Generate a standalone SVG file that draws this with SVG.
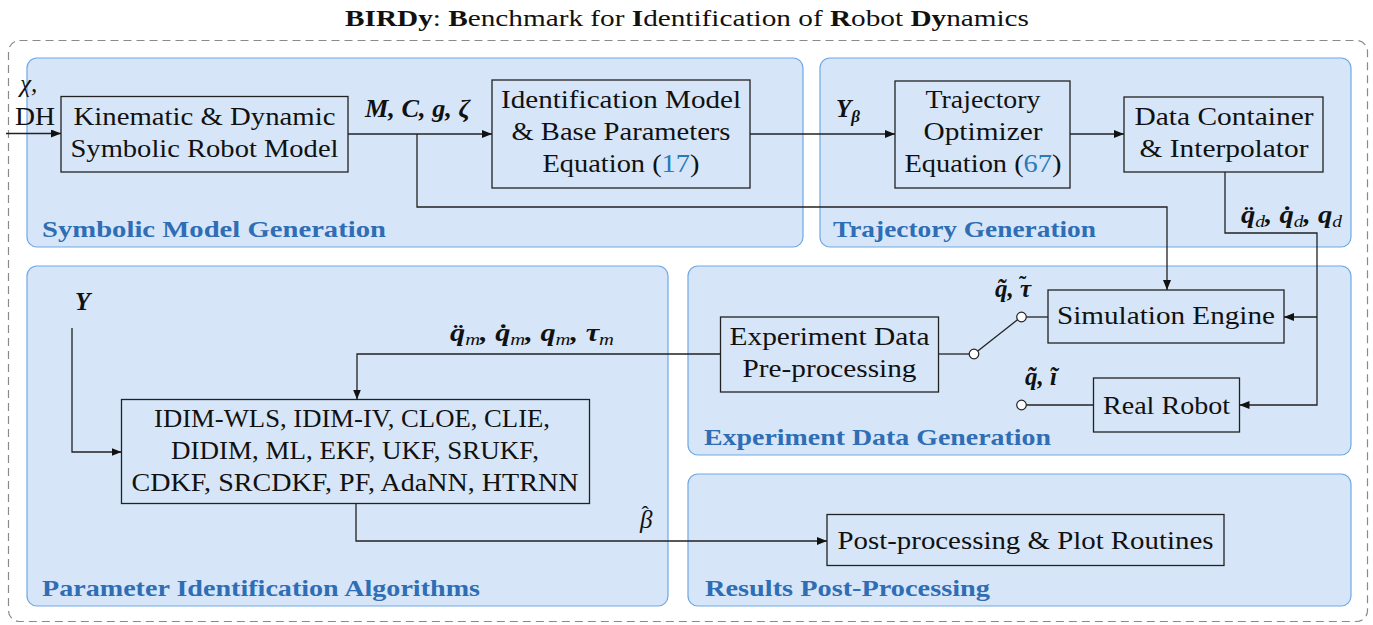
<svg xmlns="http://www.w3.org/2000/svg" width="1373" height="625" viewBox="0 0 1373 625">
<defs>
<marker id="ah" viewBox="0 0 10 8" refX="10" refY="4" markerWidth="10" markerHeight="8" markerUnits="userSpaceOnUse" orient="auto">
<path d="M0,0 L10,4 L0,8 z" fill="#111"/>
</marker>
<style>
text{font-family:'Liberation Serif','Times New Roman',Tinos,'Noto Serif',serif}
.panel{fill:#d6e6f8;stroke:#6ea8e6;stroke-width:1.2}
.plabel{font-weight:bold;font-size:23px;fill:#2f6db4}
.box{fill:none;stroke:#222;stroke-width:1.3}
.t{font-size:25px;fill:#111;text-anchor:middle}
.m{font-style:italic;font-weight:bold;font-size:25px;fill:#111}
.mi{font-style:italic;font-size:25px;fill:#111}
.sub{font-style:italic;font-weight:normal;font-size:17px}
.acc{font-style:normal;font-size:22px}
.link{fill:#2a7ab8}
.c{fill:none;stroke:#222;stroke-width:1.3}
.sw{fill:#fff;stroke:#222;stroke-width:1.2}
</style>
</defs>
<rect width="1373" height="625" fill="#fff"/>
<text x="687" y="26" font-size="24" fill="#111" text-anchor="middle" textLength="684" lengthAdjust="spacingAndGlyphs"><tspan font-weight="bold">BIRDy</tspan>: <tspan font-weight="bold">B</tspan>enchmark for <tspan font-weight="bold">I</tspan>dentification of <tspan font-weight="bold">R</tspan>obot <tspan font-weight="bold">Dy</tspan>namics</text>
<rect x="8.5" y="40.5" width="1359" height="581" rx="11" fill="none" stroke="#8a8a8a" stroke-width="1.2" stroke-dasharray="8,5"/>

<g id="panel-symbolic">
<rect class="panel" x="27" y="58" width="776" height="189" rx="10"/>
<text class="plabel" x="42" y="237" textLength="344" lengthAdjust="spacingAndGlyphs">Symbolic Model Generation</text>
</g>
<g id="panel-trajectory">
<rect class="panel" x="820" y="58" width="531" height="189" rx="10"/>
<text class="plabel" x="833" y="237" textLength="263" lengthAdjust="spacingAndGlyphs">Trajectory Generation</text>
</g>
<g id="panel-param">
<rect class="panel" x="27" y="266" width="641" height="340" rx="10"/>
<text class="plabel" x="42" y="596" textLength="438" lengthAdjust="spacingAndGlyphs">Parameter Identification Algorithms</text>
</g>
<g id="panel-experiment">
<rect class="panel" x="688" y="266" width="663" height="189" rx="10"/>
<text class="plabel" x="704" y="445" textLength="347" lengthAdjust="spacingAndGlyphs">Experiment Data Generation</text>
</g>
<g id="panel-results">
<rect class="panel" x="688" y="474" width="663" height="132" rx="10"/>
<text class="plabel" x="705" y="596" textLength="285" lengthAdjust="spacingAndGlyphs">Results Post-Processing</text>
</g>

<g id="kinematic">
<rect class="box" x="61" y="96.5" width="287" height="75.5"/>
<text class="t" x="204.5" y="125" textLength="262" lengthAdjust="spacingAndGlyphs">Kinematic &amp; Dynamic</text>
<text class="t" x="204.5" y="157" textLength="268" lengthAdjust="spacingAndGlyphs">Symbolic Robot Model</text>
</g>
<g id="identification">
<rect class="box" x="492" y="80" width="258" height="108"/>
<text class="t" x="621" y="108" textLength="240" lengthAdjust="spacingAndGlyphs">Identification Model</text>
<text class="t" x="621" y="140" textLength="219" lengthAdjust="spacingAndGlyphs">&amp; Base Parameters</text>
<text class="t" x="621" y="172" textLength="157" lengthAdjust="spacingAndGlyphs">Equation (<tspan class="link">17</tspan>)</text>
</g>
<g id="optimizer">
<rect class="box" x="895" y="81" width="175" height="107"/>
<text class="t" x="983" y="108" textLength="115" lengthAdjust="spacingAndGlyphs">Trajectory</text>
<text class="t" x="983" y="140" textLength="119" lengthAdjust="spacingAndGlyphs">Optimizer</text>
<text class="t" x="983" y="172" textLength="157" lengthAdjust="spacingAndGlyphs">Equation (<tspan class="link">67</tspan>)</text>
</g>
<g id="container">
<rect class="box" x="1124" y="97" width="199" height="75"/>
<text class="t" x="1224" y="125" textLength="179" lengthAdjust="spacingAndGlyphs">Data Container</text>
<text class="t" x="1224" y="157" textLength="169" lengthAdjust="spacingAndGlyphs">&amp; Interpolator</text>
</g>
<g id="simulation">
<rect class="box" x="1048" y="290" width="236" height="53"/>
<text class="t" x="1166" y="324" textLength="218" lengthAdjust="spacingAndGlyphs">Simulation Engine</text>
</g>
<g id="realrobot">
<rect class="box" x="1093.5" y="378" width="146" height="54"/>
<text class="t" x="1166.5" y="414" textLength="127" lengthAdjust="spacingAndGlyphs">Real Robot</text>
</g>
<g id="preprocessing">
<rect class="box" x="720.5" y="317" width="218" height="75"/>
<text class="t" x="829.5" y="345" textLength="200" lengthAdjust="spacingAndGlyphs">Experiment Data</text>
<text class="t" x="829.5" y="377" textLength="174" lengthAdjust="spacingAndGlyphs">Pre-processing</text>
</g>
<g id="algorithms">
<rect class="box" x="121.5" y="399.5" width="468" height="104"/>
<text class="t" x="352" y="427" textLength="396" lengthAdjust="spacingAndGlyphs">IDIM-WLS, IDIM-IV, CLOE, CLIE,</text>
<text class="t" x="355" y="459" textLength="368" lengthAdjust="spacingAndGlyphs">DIDIM, ML, EKF, UKF, SRUKF,</text>
<text class="t" x="355" y="491" textLength="447" lengthAdjust="spacingAndGlyphs">CDKF, SRCDKF, PF, AdaNN, HTRNN</text>
</g>
<g id="postprocessing">
<rect class="box" x="827" y="514.5" width="397" height="51"/>
<text class="t" x="1025.5" y="549" textLength="376" lengthAdjust="spacingAndGlyphs">Post-processing &amp; Plot Routines</text>
</g>

<g id="connectors">
<path class="c" d="M6,133.5 H61" marker-end="url(#ah)"/>
<path class="c" d="M348,134 H492" marker-end="url(#ah)"/>
<path class="c" d="M417,134 V207 H1167 V290" marker-end="url(#ah)"/>
<path class="c" d="M750,134 H895" marker-end="url(#ah)"/>
<path class="c" d="M1070,134 H1124" marker-end="url(#ah)"/>
<path class="c" d="M1225,172 V233 H1317 V405 H1239.5" marker-end="url(#ah)"/>
<path class="c" d="M1317,317 H1284" marker-end="url(#ah)"/>
<path class="c" d="M1048,317 H1026"/>
<path class="c" d="M938.5,354 H969.5"/>
<path class="c" d="M977.5,351.2 L1017.5,319.8"/>
<path class="c" d="M1093.5,405 H1026"/>
<path class="c" d="M720.5,354 H357 V399.5" marker-end="url(#ah)"/>
<path class="c" d="M72,328 V452 H121.5" marker-end="url(#ah)"/>
<path class="c" d="M356,503.5 V541 H827" marker-end="url(#ah)"/>
<circle class="sw" cx="1021.5" cy="317" r="4.8"/>
<circle class="sw" cx="974" cy="354" r="4.8"/>
<circle class="sw" cx="1021.5" cy="405" r="4.8"/>
</g>

<g id="labels">
<text class="mi" x="20" y="92">χ,</text>
<text x="15" y="125" font-size="25" fill="#111" textLength="40" lengthAdjust="spacingAndGlyphs">DH</text>
<text class="m" x="365" y="117" textLength="105" lengthAdjust="spacingAndGlyphs">M, C, g, ζ</text>
<text class="m" x="836" y="117">Y<tspan font-size="17" dy="5">β</tspan></text>
<text class="m" x="1241" y="223" textLength="101" lengthAdjust="spacingAndGlyphs">q̈<tspan class="sub" dy="4">d</tspan><tspan dy="-4">, q̇</tspan><tspan class="sub" dy="4">d</tspan><tspan dy="-4">, q</tspan><tspan class="sub" dy="4">d</tspan></text>
<text class="m" x="995" y="297">q̃, τ<tspan class="acc" dx="-12" dy="-6">˜</tspan></text>
<text class="m" x="1025" y="385">q̃, ĩ</text>
<text class="m" x="75" y="310">Y</text>
<text class="m" x="450" y="341" textLength="164" lengthAdjust="spacingAndGlyphs">q̈<tspan class="sub" dy="4">m</tspan><tspan dy="-4">, q̇</tspan><tspan class="sub" dy="4">m</tspan><tspan dy="-4">, q</tspan><tspan class="sub" dy="4">m</tspan><tspan dy="-4">, τ</tspan><tspan class="sub" dy="4">m</tspan></text>
<text class="mi" x="640" y="528">β<tspan class="acc" dx="-11" dy="-7">ˆ</tspan></text>
</g>
</svg>
